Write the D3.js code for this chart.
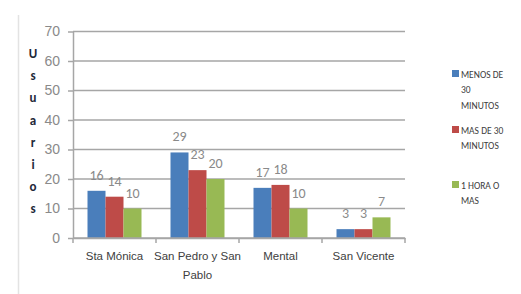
<!DOCTYPE html>
<html lang="es">
	<head>
		<meta charset="utf-8">
		<title>Usuarios por tiempo de espera</title>
		<script type="text/javascript" src="https://d3js.org/d3.v7.min.js"></script>
		<style type="text/css">
			body { margin: 0; background: #fff; }
			svg { font-family: Carlito, Calibri, "Liberation Sans", sans-serif; }
			.y_axis text { font-size: 14px; fill: #8a8a8a; }
			.y_axis path, .y_axis line, .x_axis path, .x_axis line {
				stroke: #a6a6a6; stroke-width: 1.5px;
				}
			.x_axis text { font-size: 11.5px; fill: #404040; }
			.grid line { stroke: #a6a6a6; stroke-width: 1.5px; }
			.value_label { font-size: 14px; fill: #8a8a8a; text-anchor: middle; }
			.legend text { font-size: 9.5px; fill: #404040; }
			.ytitle { font-size: 13px; font-weight: bold; fill: #1f2a3a; text-anchor: middle; }
		</style>
	</head>
	<body>
		<script type="text/javascript">

			var w = 521;
			var h = 294;

			// data
			var categories = ["Sta Mónica", "San Pedro y San Pablo", "Mental", "San Vicente"];
			var series = ["MENOS DE 30 MINUTOS", "MAS  DE 30 MINUTOS", "1 HORA O MAS"];
			var menos30 = [16, 29, 17, 3];
			var mas30 = [14, 23, 18, 3];
			var unaHora = [10, 20, 10, 7];
			var yTicks = [0, 10, 20, 30, 40, 50, 60, 70];
			var legendLines = [["MENOS DE", "30", "MINUTOS"], ["MAS  DE 30", "MINUTOS"], ["1 HORA O", "MAS"]];
			var colors = ["#4a7ebb", "#be4b48", "#98b954"];
			var values = [menos30, mas30, unaHora];

			var plotLeft = 73, plotRight = 405, plotTop = 31.5, plotBottom = 238;

			var svg = d3.select("body").append("svg")
				.attr("width", w)
				.attr("height", h);

			// light frame line at left
			svg.append("line")
				.attr("x1", 18.5).attr("x2", 18.5)
				.attr("y1", 15).attr("y2", h)
				.attr("stroke", "#e3e3e3").attr("stroke-width", 1.5);

			var xScale = d3.scaleBand()
				.domain(categories)
				.range([plotLeft, plotRight]);

			var xInner = d3.scaleBand()
				.domain(d3.range(series.length))
				.range([0, 54]);

			var yScale = d3.scaleLinear()
				.domain([0, 70])
				.range([plotBottom, plotTop]);

			// gridlines
			svg.append("g").attr("class", "grid")
				.selectAll("line")
				.data(yTicks.slice(1))
				.enter().append("line")
				.attr("x1", plotLeft).attr("x2", plotRight)
				.attr("y1", function(d){ return yScale(d); })
				.attr("y2", function(d){ return yScale(d); });

			var yAxis = d3.axisLeft(yScale).tickValues(yTicks).tickSize(5).tickPadding(8).tickSizeOuter(0);
			svg.append("g").attr("class", "y_axis")
				.attr("transform", "translate(" + plotLeft + ",0)")
				.call(yAxis);

			var xAxis = d3.axisBottom(xScale).tickSize(0).tickPadding(14).tickSizeOuter(0);
			var gx = svg.append("g").attr("class", "x_axis")
				.attr("transform", "translate(0," + plotBottom + ")")
				.call(xAxis);
			gx.selectAll(".tick text").call(wrap, 92);

			// tick marks between categories
			gx.selectAll(".sep")
				.data(d3.range(categories.length + 1))
				.enter().append("line")
				.attr("class", "sep")
				.attr("x1", function(i){ return plotLeft + i * xScale.step(); })
				.attr("x2", function(i){ return plotLeft + i * xScale.step(); })
				.attr("y1", 0).attr("y2", 5);

			// bars
			var groups = svg.selectAll(".series")
				.data(values)
				.enter().append("g")
				.attr("class", "series")
				.attr("fill", function(d, i){ return colors[i]; });

			groups.each(function(vals, si){
				var g = d3.select(this);
				g.selectAll("rect")
					.data(vals)
					.enter().append("rect")
					.attr("x", function(d, ci){ return xScale(categories[ci]) + xScale.bandwidth() / 2 - 27 + xInner(si); })
					.attr("y", function(d){ return yScale(d); })
					.attr("width", xInner.bandwidth())
					.attr("height", function(d){ return plotBottom - yScale(d); });
				g.selectAll("text")
					.data(vals)
					.enter().append("text")
					.attr("class", "value_label")
					.attr("x", function(d, ci){ return xScale(categories[ci]) + xScale.bandwidth() / 2 - 27 + xInner(si) + xInner.bandwidth() / 2; })
					.attr("y", function(d){ return yScale(d) - 11; })
					.text(function(d){ return d; });
			});

			// re-draw baseline over the bars
			svg.append("line")
				.attr("x1", plotLeft).attr("x2", plotRight)
				.attr("y1", plotBottom).attr("y2", plotBottom)
				.attr("stroke", "#a6a6a6").attr("stroke-width", 1.5);

			// vertical title
			var letters = "Usuarios".split("");
			svg.append("g").selectAll("text")
				.data(letters)
				.enter().append("text")
				.attr("class", "ytitle")
				.attr("x", 33)
				.attr("y", function(d, i){ return 58 + i * 22.2; })
				.text(function(d){ return d; });

			// legend
			var legendY = [74, 130, 185];
			var legend = svg.append("g").attr("class", "legend");
			legendLines.forEach(function(lines, i){
				legend.append("rect")
					.attr("x", 452).attr("y", legendY[i] - 4)
					.attr("width", 7).attr("height", 7)
					.attr("fill", colors[i]);
				legend.selectAll(".l" + i)
					.data(lines)
					.enter().append("text")
					.attr("class", "l" + i)
					.attr("x", 461)
					.attr("y", function(d, j){ return legendY[i] + 3.5 + j * 15.5; })
					.text(function(d){ return d; });
			});

			function wrap(text, width) {
				text.each(function(){
					var t = d3.select(this),
						words = t.text().split(/\s+/).reverse(),
						word, line = [], lineNumber = 0,
						y = t.attr("y"), dy = parseFloat(t.attr("dy")),
						tspan = t.text(null).append("tspan").attr("x", 0).attr("y", y).attr("dy", dy + "em");
					while (word = words.pop()) {
						line.push(word);
						tspan.text(line.join(" "));
						if (tspan.node().getComputedTextLength() > width && line.length > 1) {
							line.pop();
							tspan.text(line.join(" "));
							line = [word];
							tspan = t.append("tspan").attr("x", 0).attr("y", y)
								.attr("dy", (++lineNumber * 1.6 + dy) + "em").text(word);
						}
					}
				});
			}

		</script>
	</body>
</html>
